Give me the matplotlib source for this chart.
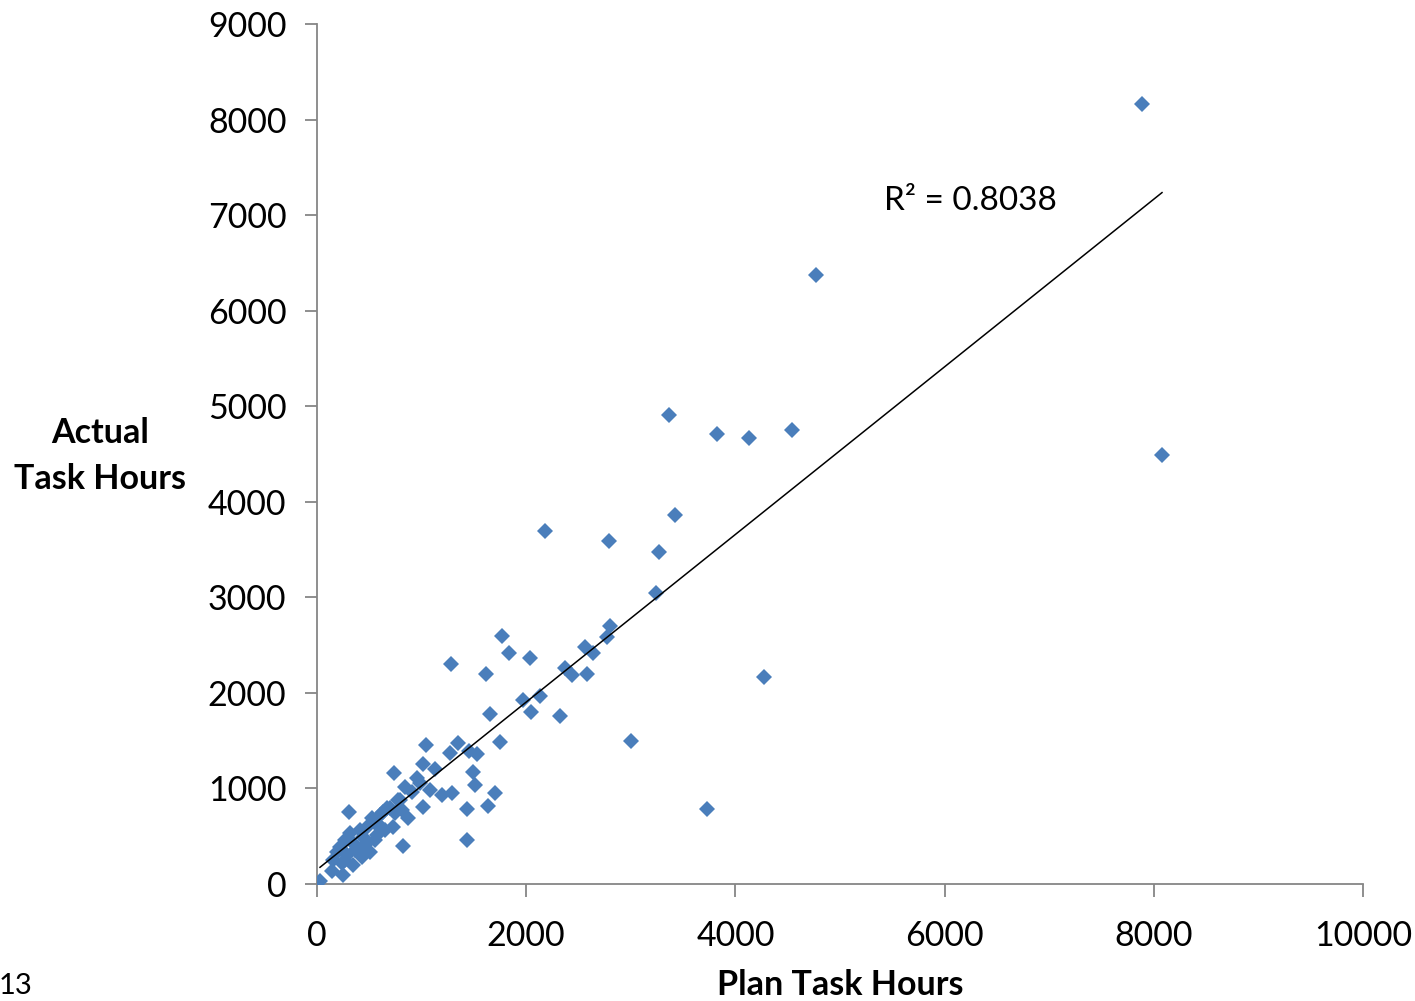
import numpy as np
import matplotlib
matplotlib.use("Agg")
from matplotlib import pyplot as plt

plt.rcParams['font.family'] = ['Lato', 'DejaVu Sans']

# plan vs actual hours per task
plan_hours = [7887, 8078, 4770, 3365, 3824, 4130, 4541, 3422, 2180, 2792,
              3270, 3241, 2801, 2772, 2562, 2639, 2371, 2438, 2581, 4273,
              1769, 1836, 2036, 1281, 1616, 2132, 1969, 2046, 2323, 1654,
              3002, 1749, 3728, 1042, 1348, 1271, 1453, 1530, 1491, 1510,
              1702, 1635, 1434, 1434, 1291, 1195, 1080, 1013, 870, 1128,
              1013, 736, 841, 956, 908, 793, 698, 631, 746, 822,
              306, 727, 29, 143, 249,
              220, 287, 344, 392, 440, 478, 507, 554, 574, 621,
              669, 774, 813, 985, 153, 239, 344, 430, 315, 526,
              602, 191, 268, 363, 459, 650, 411, 268, 554]
actual_hours = [8163, 4489, 6373, 4908, 4709, 4667, 4751, 3862, 3694, 3589,
                3474, 3045, 2700, 2585, 2480, 2417, 2260, 2187, 2198, 2166,
                2595, 2417, 2365, 2302, 2198, 1967, 1926, 1800, 1758, 1779,
                1496, 1486, 785, 1455, 1476, 1371, 1392, 1360, 1172, 1036,
                952, 816, 785, 460, 952, 931, 984, 806, 691, 1203,
                1256, 1162, 1015, 1109, 963, 879, 795, 753, 743, 398,
                753, 597, 31, 136, 94,
                387, 303, 429, 377, 492, 597, 335, 638, 513, 586,
                795, 879, 774, 1057, 251, 220, 199, 283, 534, 691,
                722, 335, 460, 356, 408, 565, 565, 251, 460]
r2_text = "R² = 0.8038"

x = np.array(plan_hours)
y = np.array(actual_hours)

fig = plt.figure(figsize=(14.15, 10.01), dpi=100)
ax = fig.add_axes([0.224, 0.1169, 0.7393, 0.8591])

ax.plot(x, y, linestyle='none', marker='D', ms=8.6, color='#4A7EBB',
        markeredgewidth=0, zorder=3)

# linear trendline over the data range
k, b = np.polyfit(x, y, 1)
xs = np.array([x.min(), x.max()])
ax.plot(xs, k * xs + b, color='black', lw=1.1, zorder=4)

ax.text(5420, 7150, r2_text, fontsize=24, ha='left', va='center')

ax.set_xlim(0, 10000)
ax.set_ylim(0, 9000)
ax.set_xticks(range(0, 10001, 2000))
ax.set_yticks(range(0, 9001, 1000))
for s in ['top', 'right']:
    ax.spines[s].set_visible(False)
for s in ['left', 'bottom']:
    ax.spines[s].set_color('#868686')
    ax.spines[s].set_linewidth(1.3)
ax.tick_params(axis='both', length=9, width=1.3, color='#868686',
               labelsize=24.5, pad=13)
ax.tick_params(axis='x', pad=17)

fig.text(100 / 1415, 1 - 456 / 1001, "Actual\nTask Hours", fontsize=24.5,
         fontweight='bold', ha='center', va='center', linespacing=1.55)
fig.text(840 / 1415, 1 - 985 / 1001, "Plan Task Hours", fontsize=24.5,
         fontweight='bold', ha='center', va='center')
fig.text(-1 / 1415, 1 - 986 / 1001, "13", fontsize=21, ha='left', va='center')

fig.savefig("out.png", dpi=100)
